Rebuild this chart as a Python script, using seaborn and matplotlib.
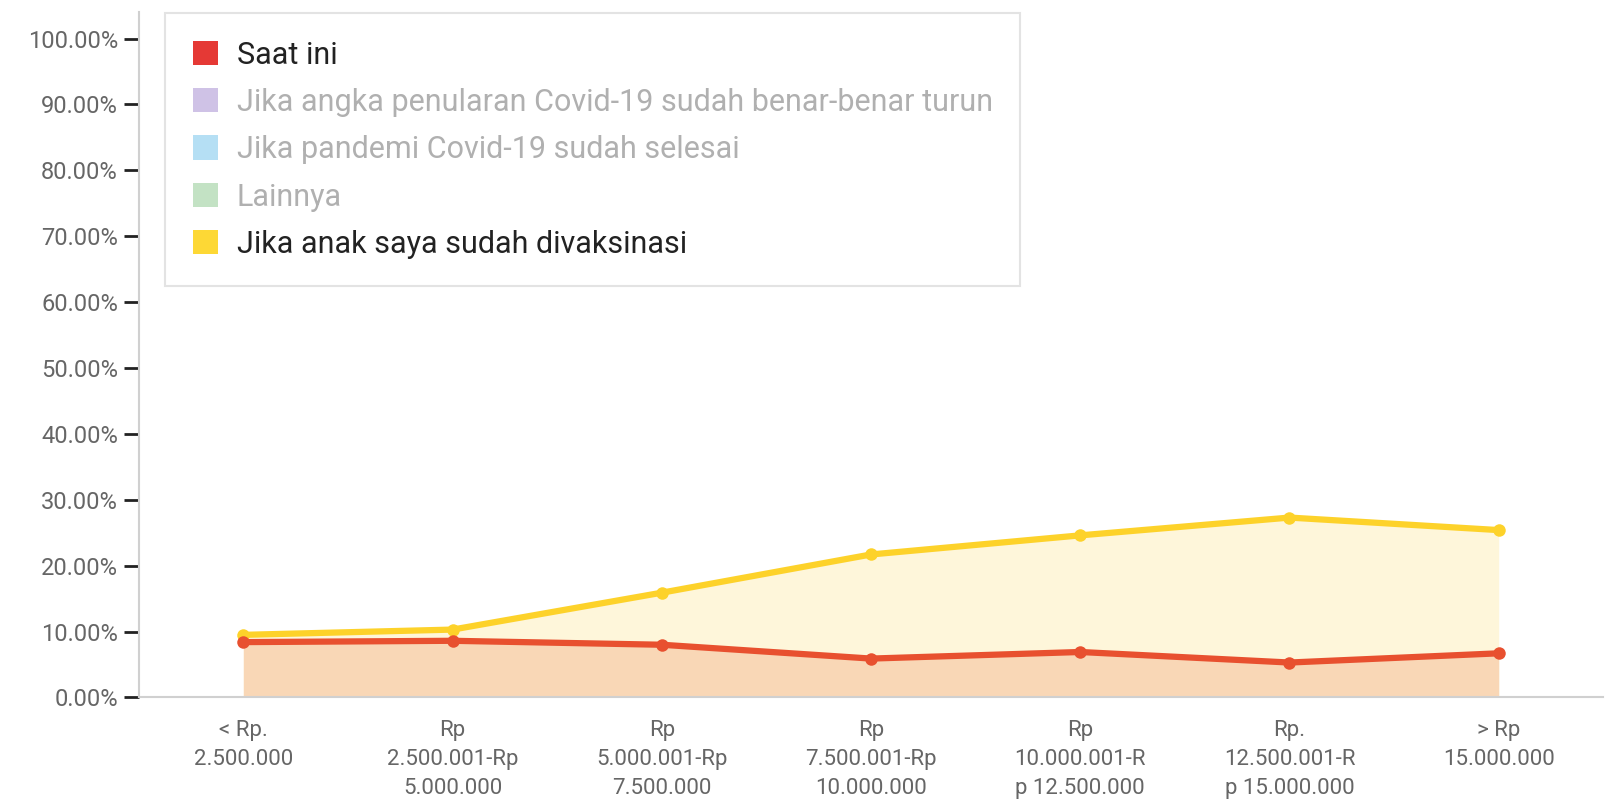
import numpy as np
import pandas as pd
import matplotlib
matplotlib.use("Agg")
import matplotlib.pyplot as plt
from matplotlib.patches import Patch
from matplotlib.ticker import PercentFormatter
import seaborn as sns

categories = ["< Rp.\n2.500.000", "Rp\n2.500.001-Rp\n5.000.000", "Rp\n5.000.001-Rp\n7.500.000",
              "Rp\n7.500.001-Rp\n10.000.000", "Rp\n10.000.001-R\np 12.500.000",
              "Rp.\n12.500.001-R\np 15.000.000", "> Rp\n15.000.000"]
saat_ini = [8.4, 8.6, 8.0, 5.9, 6.9, 5.3, 6.7]
anak_vaksin = [9.5, 10.3, 15.9, 21.7, 24.6, 27.3, 25.4]

legend_labels = ["Saat ini", "Jika angka penularan Covid-19 sudah benar-benar turun",
                 "Jika pandemi Covid-19 sudah selesai", "Lainnya", "Jika anak saya sudah divaksinasi"]
legend_colors = ["#e53935", "#cfc2e6", "#b5dff4", "#c3e2c4", "#fdd835"]
legend_text_colors = ["#222222", "#b0b0b0", "#b0b0b0", "#b0b0b0", "#222222"]

sns.set_style("white")
plt.rcParams['font.family'] = ['Roboto', 'DejaVu Sans']

df = pd.DataFrame({"x": np.arange(len(categories)), "saat": saat_ini, "anak": anak_vaksin})

fig = plt.figure(figsize=(16.13, 8.11), dpi=100)
ax = fig.add_axes([0.086, 0.140, 0.908, 0.845])

ax.fill_between(df["x"], 0, df["anak"], color="#fef6da", lw=0, zorder=1)
ax.fill_between(df["x"], 0, df["saat"], color="#f9d7b6", lw=0, zorder=2)
sns.lineplot(data=df, x="x", y="anak", ax=ax, color="#fdd22a", lw=4.5, marker="o",
             markersize=9, markeredgewidth=0, zorder=3)
sns.lineplot(data=df, x="x", y="saat", ax=ax, color="#e8502f", lw=4.5, marker="o",
             markersize=9, markeredgewidth=0, zorder=4)

ax.set_xlim(-0.5, 6.5)
ax.set_ylim(0, 104)
ax.set_yticks(np.arange(0, 101, 10))
ax.yaxis.set_major_formatter(PercentFormatter(decimals=2))
ax.set_xticks(np.arange(0.5, 6, 1))
ax.set_xticklabels([])
ax.set_xticks(df["x"], minor=True)
ax.set_xticklabels(categories, minor=True)
ax.tick_params(axis="x", which="major", direction="out", length=12, width=2, color="#222222")
ax.tick_params(axis="x", which="minor", length=0, pad=16, labelsize=16, labelcolor="#666666")
ax.tick_params(axis="y", direction="out", length=11, width=2, color="#222222", pad=4,
               labelsize=17, labelcolor="#666666", left=True)
for lbl in ax.get_xticklabels(minor=True):
    lbl.set_linespacing(1.5)
ax.set_xlabel("")
ax.set_ylabel("")
sns.despine(ax=ax, top=True, right=True)
ax.spines["left"].set_color("#d0d0d0")
ax.spines["bottom"].set_color("#d0d0d0")
ax.spines["left"].set_linewidth(1.5)
ax.spines["bottom"].set_linewidth(1.5)
ax.grid(False)

handles = [Patch(facecolor=c, edgecolor="none") for c in legend_colors]
leg = fig.legend(handles, legend_labels, loc="upper left", bbox_to_anchor=(165 / 1613, 1 - 13 / 811),
                 fontsize=22, frameon=True, fancybox=False, handlelength=0.85, handleheight=0.85,
                 handletextpad=0.6, labelspacing=0.6, borderpad=0.9, borderaxespad=0)
leg.get_frame().set_edgecolor("#dddddd")
leg.get_frame().set_linewidth(1.5)
for t, c in zip(leg.get_texts(), legend_text_colors):
    t.set_color(c)

fig.savefig("out.png", dpi=100)
